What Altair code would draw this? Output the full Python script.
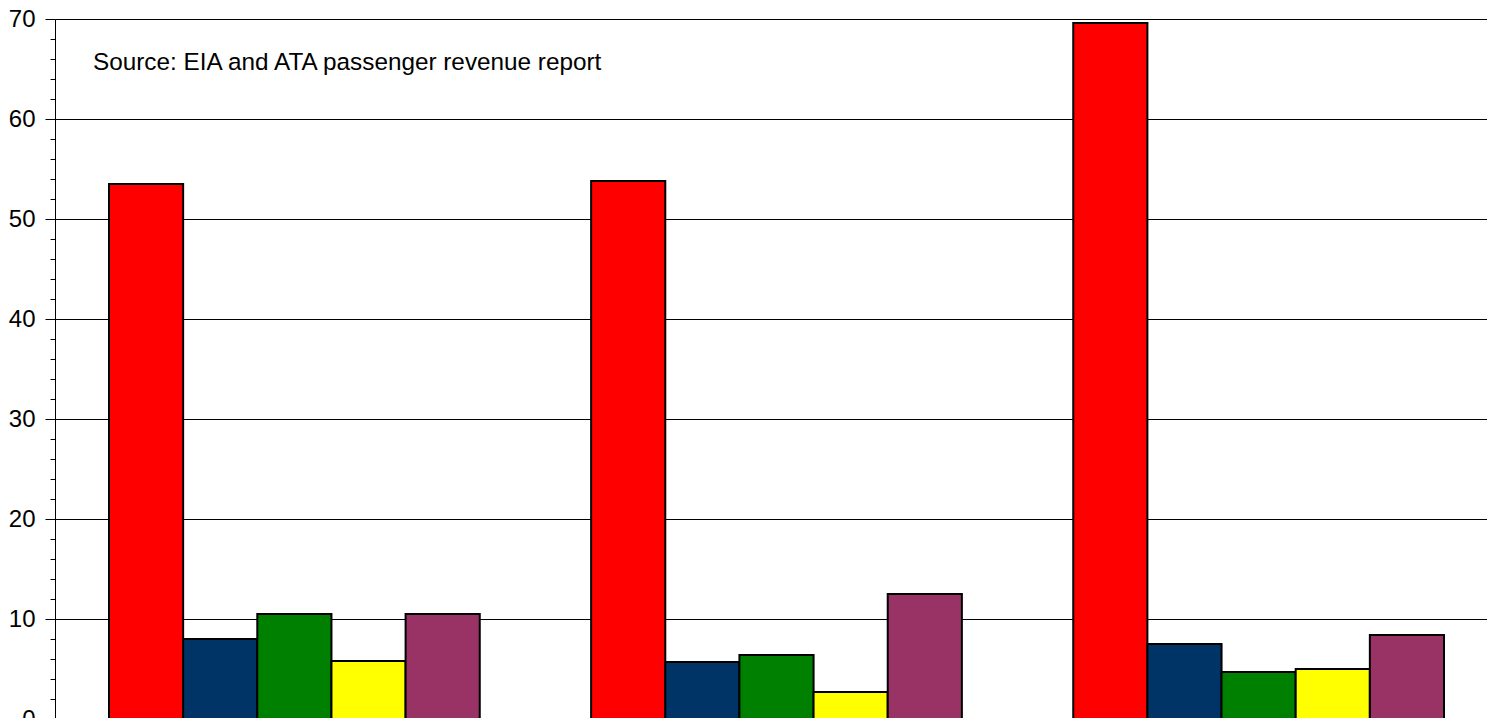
import altair as alt
import pandas as pd

groups = ["Group 1", "Group 2", "Group 3"]
series = ["Series 1", "Series 2", "Series 3", "Series 4", "Series 5"]
colors = ["#FF0000", "#003366", "#008000", "#FFFF00", "#993366"]

s1 = [53.5, 53.8, 69.6]
s2 = [8.0, 5.7, 7.5]
s3 = [10.5, 6.4, 4.7]
s4 = [5.8, 2.7, 5.0]
s5 = [10.5, 12.5, 8.4]

y_ticks = list(range(0, 71, 2))
source_text = "Source: EIA and ATA passenger revenue report"

rows = []
for name, vals in zip(series, [s1, s2, s3, s4, s5]):
    for g, v in zip(groups, vals):
        rows.append({"group": g, "series": name, "value": v})
df = pd.DataFrame(rows)

FONT = "Liberation Sans"

bars = alt.Chart(df).mark_bar(stroke="black", strokeWidth=2).encode(
    x=alt.X(
        "group:N",
        sort=groups,
        scale=alt.Scale(paddingInner=0.231, paddingOuter=0.112, range=[0, 1443]),
        axis=alt.Axis(title=None, labels=False, ticks=False,
                      domainColor="black"),
    ),
    xOffset=alt.XOffset("series:N", sort=series,
                        scale=alt.Scale(paddingInner=0, paddingOuter=0)),
    y=alt.Y(
        "value:Q",
        scale=alt.Scale(domain=[0, 70], nice=False, zero=True),
        axis=alt.Axis(
            title=None,
            values=y_ticks,
            labelExpr="datum.value % 10 === 0 ? datum.label : ''",
            labelFontSize=24,
            labelFont=FONT,
            labelColor="black",
            labelPadding=10,
            tickSize={"condition": {"test": "datum.value % 10 === 0", "value": 10}, "value": 5},
            tickColor="black",
            tickWidth=1,
            domainColor="black",
            domainWidth=1,
            grid=True,
            gridColor="black",
            gridWidth=1,
            gridOpacity={"condition": {"test": "datum.value % 10 === 0", "value": 1}, "value": 0},
        ),
    ),
    color=alt.Color("series:N", sort=series,
                    scale=alt.Scale(domain=series, range=colors), legend=None),
)

note = alt.Chart(pd.DataFrame({"t": [source_text]})).mark_text(
    align="left", baseline="alphabetic", fontSize=24.3, font=FONT, color="black"
).encode(x=alt.value(38), y=alt.value(50.5), text="t:N")

chart = alt.layer(bars, note).properties(
    width=1432,
    height=700,
    autosize=alt.AutoSizeParams(type="none"),
    padding={"left": 47, "top": 11, "right": 0, "bottom": 20},
).configure_view(stroke="transparent")

chart.save("out.html", embed_options={"renderer": "svg", "actions": False})
